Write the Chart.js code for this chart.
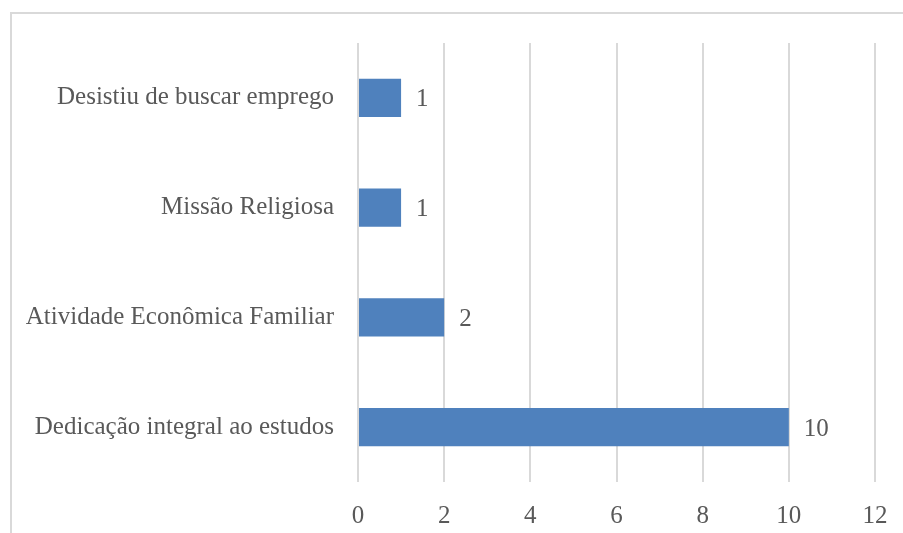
<!DOCTYPE html>
<html>
<head>
<meta charset="utf-8">
<script src="https://cdn.jsdelivr.net/npm/chart.js@4/dist/chart.umd.min.js"></script>
<style>
  body { margin: 0; background: #fff; }
  #wrap { position: relative; width: 903px; height: 533px; overflow: hidden; }
  #frame {
    position: absolute; left: 10px; top: 12px; width: 1000px; height: 1000px;
    border-left: 2px solid #d9d9d9; border-top: 2px solid #d9d9d9;
  }
  canvas { position: absolute; left: 0; top: 0; }
</style>
</head>
<body>
<div id="wrap">
  <div id="frame"></div>
  <canvas id="myChart" width="903" height="533"></canvas>
</div>
<script>
'use strict'

let reasons = ['Desistiu de buscar emprego', 'Missão Religiosa', 'Atividade Econômica Familiar', 'Dedicação integral ao estudos'];
let counts = [1, 1, 2, 10];
let axisMax = 12;
let axisStep = 2;

let fontFamily = '"Liberation Serif", "DejaVu Serif", serif';
let fontSize = 25;
let textColor = '#595959';

// writes the count just right of each bar
let valueLabels = {
  id: 'valueLabels',
  afterDatasetsDraw(chart) {
    let ctx = chart.ctx;
    let meta = chart.getDatasetMeta(0);
    ctx.save();
    ctx.font = fontSize + 'px ' + fontFamily;
    ctx.fillStyle = textColor;
    ctx.textAlign = 'left';
    ctx.textBaseline = 'middle';
    meta.data.forEach(function (bar, i) {
      ctx.fillText(String(counts[i]), bar.x + 15, bar.y + 2);
    });
    ctx.restore();
  }
};

let ctx = document.getElementById('myChart').getContext('2d');
let chart = new Chart(ctx, {
  type: 'bar',
  data: {
    labels: reasons,
    datasets: [{
      data: counts,
      backgroundColor: '#4f81bd',
      borderWidth: 0,
      categoryPercentage: 1,
      barPercentage: 0.35
    }]
  },
  options: {
    indexAxis: 'y',
    responsive: false,
    animation: false,
    layout: { padding: { top: 43, right: 28, bottom: 0, left: 0 } },
    plugins: {
      legend: { display: false },
      tooltip: { enabled: false }
    },
    scales: {
      x: {
        min: 0,
        max: axisMax,
        ticks: {
          stepSize: axisStep,
          color: textColor,
          font: { family: fontFamily, size: fontSize },
          padding: 19
        },
        grid: { color: '#d9d9d9', lineWidth: 2, drawTicks: false },
        border: { display: false },
        afterFit(scale) {
          scale.height = 51;
          scale.paddingLeft = 0;
          scale.paddingRight = 0;
        }
      },
      y: {
        ticks: {
          color: textColor,
          font: { family: fontFamily, size: fontSize },
          padding: 24
        },
        grid: { display: false, drawTicks: false },
        border: { display: false },
        afterFit(scale) { scale.width = 358; }
      }
    }
  },
  plugins: [valueLabels]
});
</script>
</body>
</html>
